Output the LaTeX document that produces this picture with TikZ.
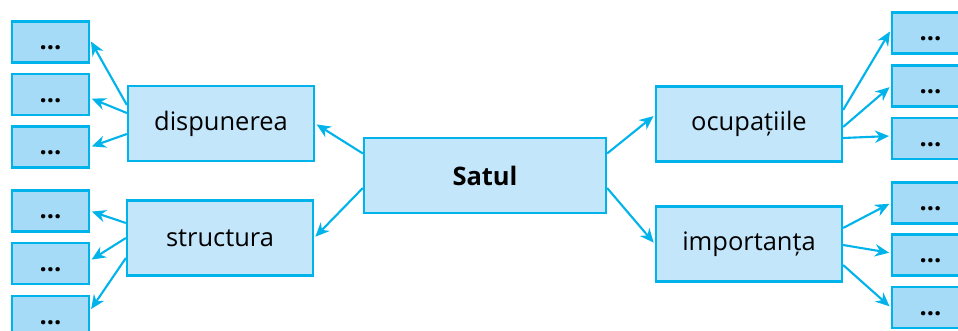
\documentclass[tikz,border=0pt]{standalone}
\usepackage{fontspec}
\setmainfont{Open Sans}
\usetikzlibrary{arrows.meta,calc}
\definecolor{edgeblue}{HTML}{00B4EB}
\definecolor{darkfill}{HTML}{A5DBF7}
\definecolor{lightfill}{HTML}{C4E6FA}

\begin{document}
\begin{tikzpicture}[x=0.02cm,y=-0.02cm,
  leaf/.style={draw=edgeblue,fill=darkfill,line width=1.3pt,minimum width=1.54cm,minimum height=0.82cm,inner sep=0pt,text height=11pt,text depth=2pt,font=\fontsize{14.5}{16}\selectfont\bfseries},
  topic/.style={draw=edgeblue,fill=lightfill,line width=1.3pt,minimum width=3.72cm,minimum height=1.5cm,inner sep=0pt,font=\fontsize{14.5}{16}\selectfont},
  arr/.style={edgeblue,line width=1.2pt,-{Stealth[length=8pt,width=7pt]},shorten >=1pt}]
\clip (0,0) rectangle (958,331);
\fill[white] (0,0) rectangle (958,331);

\node[leaf] (l1) at (50.5,42) {...};
\node[leaf] (l2) at (50.5,94.5) {...};
\node[leaf] (l3) at (50.5,147) {...};
\node[leaf] (l4) at (50.5,211) {...};
\node[leaf] (l5) at (50.5,263.5) {...};
\node[leaf] (l6) at (50.5,316.5) {...};

\node[topic] (disp) at (221,123.5) {dispunerea};
\node[topic] (struc) at (220,238) {structura};
\node[topic,minimum width=4.84cm,font=\fontsize{14.5}{16}\selectfont\bfseries] (satul) at (485,175.5) {Satul};
\node[topic] (ocup) at (749,124) {ocupațiile};
\node[topic] (imp) at (749,244) {importanța};

\node[leaf] (r1) at (930.5,33) {...};
\node[leaf] (r2) at (930.5,86) {...};
\node[leaf] (r3) at (930.5,138.5) {...};
\node[leaf] (r4) at (930.5,203) {...};
\node[leaf] (r5) at (930.5,255) {...};
\node[leaf] (r6) at (930.5,307.5) {...};

% from the centre
\draw[arr] ($(satul.west)+(0,-22)$) -- (disp.east);
\draw[arr] ($(satul.west)+(0,12.5)$) -- (struc.east);
\draw[arr] ($(satul.east)+(0,-22)$) -- ($(ocup.west)+(0,-9)$);
\draw[arr] ($(satul.east)+(0,12.5)$) -- (imp.west);

% left side
\draw[arr] ($(disp.west)+(0,-18.5)$) -- ($(l1.east)+(0,-2)$);
\draw[arr] ($(disp.west)+(0,-10.5)$) -- ($(l2.east)+(0,3.5)$);
\draw[arr] ($(disp.west)+(0,10.5)$) -- (l3.east);
\draw[arr] ($(struc.west)+(0,-15)$) -- (l4.east);
\draw[arr] (struc.west) -- ($(l5.east)+(0,-3)$);
\draw[arr] ($(struc.west)+(0,20)$) -- ($(l6.east)+(0,-6)$);

% right side
\draw[arr] ($(ocup.east)+(0,-14)$) -- ($(r1.west)+(0,-3)$);
\draw[arr] ($(ocup.east)+(0,3)$) -- (r2.west);
\draw[arr] ($(ocup.east)+(0,14)$) -- ($(r3.west)+(0,-2.5)$);
\draw[arr] ($(imp.east)+(0,-16)$) -- (r4.west);
\draw[arr] ($(imp.east)+(0,1)$) -- ($(r5.west)+(0,-2)$);
\draw[arr] ($(imp.east)+(0,21)$) -- (r6.west);
\end{tikzpicture}
\end{document}
